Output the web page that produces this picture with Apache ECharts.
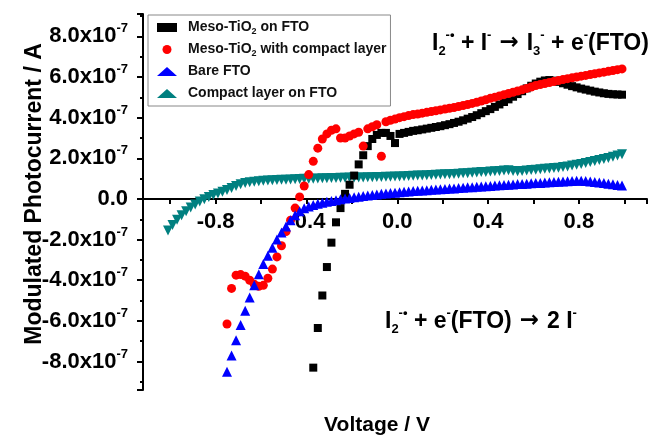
<!DOCTYPE html>
<html>
<head>
<meta charset="utf-8">
<script src="https://cdn.jsdelivr.net/npm/echarts@6/dist/echarts.min.js"></script>
<style>
html, body { margin: 0; padding: 0; background: #fff; }
#chart { width: 665px; height: 440px; }
</style>
</head>
<body>
<div id="chart"></div>
<script>
// photocurrent values are in units of 1e-7 A, voltage in V
const mesoFto = [
  [-0.37,-8.3],[-0.35,-6.35],[-0.33,-4.75],[-0.31,-3.35],[-0.29,-2.15],[-0.27,-1.15],[-0.25,-0.45],[-0.23,0.25],
  [-0.21,0.7],[-0.19,1.15],[-0.17,1.7],[-0.15,2.15],[-0.13,2.6],[-0.11,2.95],[-0.09,3.15],[-0.07,3.25],
  [-0.05,3.25],[-0.03,3.1],[-0.01,2.75],[0.01,3.2],[0.03,3.25],[0.05,3.3],[0.07,3.35],[0.09,3.38],
  [0.11,3.42],[0.13,3.46],[0.15,3.5],[0.17,3.54],[0.19,3.58],[0.21,3.63],[0.23,3.68],[0.25,3.74],
  [0.27,3.8],[0.29,3.87],[0.31,3.95],[0.33,4.03],[0.35,4.12],[0.37,4.22],[0.39,4.32],[0.41,4.42],
  [0.43,4.53],[0.45,4.65],[0.47,4.77],[0.49,4.9],[0.51,5.03],[0.53,5.16],[0.55,5.3],[0.57,5.44],
  [0.59,5.57],[0.61,5.68],[0.63,5.77],[0.65,5.83],[0.67,5.85],[0.69,5.82],[0.71,5.76],[0.73,5.69],
  [0.75,5.62],[0.77,5.55],[0.79,5.49],[0.81,5.43],[0.83,5.38],[0.85,5.33],[0.87,5.28],[0.89,5.24],
  [0.91,5.2],[0.93,5.17],[0.95,5.15],[0.97,5.14],[0.99,5.13]
];
const mesoCompact = [
  [-0.75,-6.15],[-0.73,-4.4],[-0.71,-3.75],[-0.69,-3.72],[-0.67,-3.8],[-0.65,-4.0],[-0.63,-4.2],[-0.61,-4.3],
  [-0.59,-4.25],[-0.57,-3.9],[-0.55,-3.45],[-0.53,-2.85],[-0.51,-2.3],[-0.49,-1.6],[-0.47,-1.05],[-0.45,-0.45],
  [-0.43,0.1],[-0.41,0.64],[-0.39,1.2],[-0.37,1.85],[-0.35,2.5],[-0.33,2.95],[-0.31,3.2],[-0.29,3.38],
  [-0.27,3.45],[-0.25,3.0],[-0.23,3.0],[-0.21,3.1],[-0.19,3.2],[-0.17,3.28],[-0.15,2.6],[-0.13,3.45],
  [-0.11,3.55],[-0.09,3.65],[-0.07,2.1],[-0.05,3.8],[-0.03,3.87],[-0.01,3.93],[0.01,4.0],[0.03,4.05],
  [0.05,4.1],[0.07,4.15],[0.09,4.18],[0.11,4.22],[0.13,4.26],[0.15,4.3],[0.17,4.34],[0.19,4.38],
  [0.21,4.42],[0.23,4.46],[0.25,4.5],[0.27,4.55],[0.29,4.6],[0.31,4.65],[0.33,4.7],[0.35,4.76],
  [0.37,4.82],[0.39,4.88],[0.41,4.95],[0.43,5.01],[0.45,5.07],[0.47,5.13],[0.49,5.19],[0.51,5.25],
  [0.53,5.31],[0.55,5.37],[0.57,5.44],[0.59,5.51],[0.61,5.58],[0.63,5.63],[0.65,5.68],[0.67,5.73],
  [0.69,5.78],[0.71,5.83],[0.73,5.88],[0.75,5.92],[0.77,5.96],[0.79,6.0],[0.81,6.04],[0.83,6.08],
  [0.85,6.12],[0.87,6.16],[0.89,6.2],[0.91,6.24],[0.93,6.28],[0.95,6.32],[0.97,6.36],[0.99,6.4]
];
const bareFto = [
  [-0.75,-8.5],[-0.73,-7.7],[-0.71,-6.95],[-0.69,-6.2],[-0.67,-5.5],[-0.65,-4.85],[-0.63,-4.25],[-0.61,-3.7],
  [-0.59,-3.2],[-0.57,-2.8],[-0.55,-2.4],[-0.53,-2.0],[-0.51,-1.65],[-0.49,-1.35],[-0.47,-1.05],[-0.45,-0.8],
  [-0.43,-0.6],[-0.41,-0.46],[-0.39,-0.37],[-0.37,-0.3],[-0.35,-0.24],[-0.33,-0.19],[-0.31,-0.14],[-0.29,-0.1],
  [-0.27,-0.06],[-0.25,-0.02],[-0.23,0.02],[-0.21,0.05],[-0.19,0.08],[-0.17,0.11],[-0.15,0.14],[-0.13,0.17],
  [-0.11,0.2],[-0.09,0.22],[-0.07,0.25],[-0.05,0.27],[-0.03,0.29],[-0.01,0.31],[0.01,0.33],[0.03,0.35],
  [0.05,0.37],[0.07,0.39],[0.09,0.4],[0.11,0.42],[0.13,0.43],[0.15,0.45],[0.17,0.46],[0.19,0.48],
  [0.21,0.49],[0.23,0.51],[0.25,0.52],[0.27,0.54],[0.29,0.55],[0.31,0.57],[0.33,0.58],[0.35,0.6],
  [0.37,0.61],[0.39,0.63],[0.41,0.64],[0.43,0.66],[0.45,0.67],[0.47,0.69],[0.49,0.7],[0.51,0.71],
  [0.53,0.73],[0.55,0.74],[0.57,0.75],[0.59,0.77],[0.61,0.78],[0.63,0.79],[0.65,0.81],[0.67,0.82],
  [0.69,0.84],[0.71,0.85],[0.73,0.86],[0.75,0.87],[0.77,0.88],[0.79,0.89],[0.81,0.89],[0.83,0.88],
  [0.85,0.86],[0.87,0.84],[0.89,0.81],[0.91,0.78],[0.93,0.75],[0.95,0.72],[0.97,0.69],[0.99,0.66]
];
const compactFto = [
  [-1.01,-1.55],[-0.99,-1.28],[-0.97,-1.02],[-0.95,-0.8],[-0.93,-0.6],[-0.91,-0.42],[-0.89,-0.27],[-0.87,-0.13],
  [-0.85,-0.01],[-0.83,0.1],[-0.81,0.19],[-0.79,0.27],[-0.77,0.35],[-0.75,0.44],[-0.73,0.54],[-0.71,0.64],
  [-0.69,0.72],[-0.67,0.78],[-0.65,0.82],[-0.63,0.85],[-0.61,0.87],[-0.59,0.89],[-0.57,0.91],[-0.55,0.92],
  [-0.53,0.93],[-0.51,0.94],[-0.49,0.95],[-0.47,0.96],[-0.45,0.97],[-0.43,0.98],[-0.41,0.99],[-0.39,1.0],
  [-0.37,1.0],[-0.35,1.01],[-0.33,1.02],[-0.31,1.02],[-0.29,1.03],[-0.27,1.03],[-0.25,1.04],[-0.23,1.04],
  [-0.21,1.05],[-0.19,1.05],[-0.17,1.06],[-0.15,1.06],[-0.13,1.07],[-0.11,1.07],[-0.09,1.08],[-0.07,1.08],
  [-0.05,1.09],[-0.03,1.09],[-0.01,1.1],[0.01,1.11],[0.03,1.12],[0.05,1.13],[0.07,1.14],[0.09,1.15],
  [0.11,1.16],[0.13,1.17],[0.15,1.18],[0.17,1.19],[0.19,1.2],[0.21,1.21],[0.23,1.22],[0.25,1.23],
  [0.27,1.24],[0.29,1.26],[0.31,1.27],[0.33,1.29],[0.35,1.3],[0.37,1.32],[0.39,1.33],[0.41,1.35],
  [0.43,1.36],[0.45,1.38],[0.47,1.4],[0.49,1.41],[0.51,1.38],[0.53,1.36],[0.55,1.38],[0.57,1.4],
  [0.59,1.42],[0.61,1.44],[0.63,1.46],[0.65,1.48],[0.67,1.5],[0.69,1.52],[0.71,1.54],[0.73,1.57],
  [0.75,1.6],[0.77,1.64],[0.79,1.68],[0.81,1.72],[0.83,1.77],[0.85,1.82],[0.87,1.87],[0.89,1.92],
  [0.91,1.97],[0.93,2.02],[0.95,2.08],[0.97,2.14],[0.99,2.2]
];
const seriesNames = ['Meso-TiO2 on FTO', 'Meso-TiO2 with compact layer', 'Bare FTO', 'Compact layer on FTO'];
const xTickLabels = ['-0.8', '-0.4', '0.0', '0.4', '0.8'];
const yTickLabels = [-8, -6, -4, -2, 0, 2, 4, 6, 8];

const chart = echarts.init(document.getElementById('chart'));
const FONT = 'Liberation Sans, Arial, sans-serif';
const GRID_BOTTOM = 50;

function richSet(size, sub) {
  return {
    n: { fontSize: size, fontWeight: 'bold', fontFamily: FONT, color: '#000', lineHeight: size + 6 },
    arr: { fontSize: size, fontWeight: 'bold', fontFamily: 'DejaVu Sans', color: '#000', lineHeight: size + 6 },
    sub: { fontSize: sub, fontWeight: 'bold', fontFamily: FONT, color: '#000', lineHeight: sub + 1, verticalAlign: 'bottom' },
    sup: { fontSize: sub, fontWeight: 'bold', fontFamily: FONT, color: '#000', lineHeight: sub + 1, verticalAlign: 'top' }
  };
}

chart.setOption({
  animation: false,
  backgroundColor: '#fff',
  grid: { left: 143, right: 18, top: 14, bottom: GRID_BOTTOM, outerBoundsMode: 'none' },
  legend: {
    orient: 'vertical',
    left: 148, top: 15,
    data: seriesNames,
    borderColor: '#888', borderWidth: 1,
    padding: [4, 4, 4, 9],
    itemWidth: 20, itemHeight: 9, itemGap: 5,
    formatter: name => name.replace('TiO2', 'TiO{sub|2}'),
    textStyle: {
      fontSize: 14, fontWeight: 'bold', fontFamily: FONT, color: '#111', lineHeight: 17,
      padding: [0, 0, 0, 6],
      rich: { sub: { fontSize: 9, fontWeight: 'bold', fontFamily: FONT, color: '#111', lineHeight: 8, verticalAlign: 'bottom' } }
    }
  },
  xAxis: {
    type: 'value', min: -1.12, max: 1.1, splitNumber: 11,
    position: 'bottom',
    name: 'Voltage / V', nameLocation: 'middle', nameGap: 216, nameMoveOverlap: false,
    nameTextStyle: { fontSize: 21, fontWeight: 'bold', fontFamily: FONT, color: '#000', padding: [0, 36, 0, 0] },
    axisLine: { onZero: false, lineStyle: { color: '#000', width: 2 } },
    axisTick: { length: 5, lineStyle: { color: '#000', width: 2 } },
    splitLine: { show: false },
    axisLabel: {
      margin: 12, fontSize: 22, fontWeight: 'bold', fontFamily: FONT, color: '#000',
      formatter: v => {
        const s = (Math.round(v * 10) / 10).toFixed(1);
        const q = v / 0.4;
        return Math.abs(q - Math.round(q)) < 1e-6 && xTickLabels.includes(s) ? s : '';
      }
    }
  },
  yAxis: {
    type: 'value', min: -9.4, max: 9.1, splitNumber: 9,
    name: 'Modulated Photocurrent / A', nameLocation: 'middle', nameGap: 97, nameMoveOverlap: false,
    nameTextStyle: { fontSize: 23, fontWeight: 'bold', fontFamily: FONT, color: '#000', padding: [0, 0, 0, 16] },
    axisLine: { onZero: false, lineStyle: { color: '#000', width: 2 } },
    axisTick: { length: 6, lineStyle: { color: '#000', width: 2 } },
    minorTick: { show: true, splitNumber: 2, length: 3, lineStyle: { color: '#000', width: 2 } },
    splitLine: { show: false },
    axisLabel: {
      margin: 15,
      rich: richSet(22, 13),
      formatter: v => {
        const r = Math.round(v);
        if (Math.abs(v - r) > 1e-6 || !yTickLabels.includes(r)) return '';
        if (r === 0) return '{n|0.0}';
        return '{n|' + r.toFixed(1) + 'x10}{sup|-7}';
      }
    }
  },
  graphic: [
    {
      type: 'text', left: 432, top: 29,
      style: {
        text: '{n|I}{sub|2}{sup|-•}{n| + I}{sup|-}{arr| → }{n|I}{sub|3}{sup|-}{n| + e}{sup|-}{n|(FTO)}',
        rich: richSet(23, 13)
      }
    },
    {
      type: 'text', left: 385, top: 307,
      style: {
        text: '{n|I}{sub|2}{sup|-•}{n| + e}{sup|-}{n|(FTO)}{arr| → }{n|2 I}{sup|-}',
        rich: richSet(23, 13)
      }
    }
  ],
  series: [
    {
      name: seriesNames[3], type: 'scatter', data: compactFto,
      symbol: 'triangle', symbolRotate: 180, symbolSize: 10,
      itemStyle: { color: '#008080', opacity: 1 }
    },
    {
      name: seriesNames[0], type: 'scatter', data: mesoFto,
      symbol: 'rect', symbolSize: 8,
      itemStyle: { color: '#000', opacity: 1 }
    },
    {
      name: seriesNames[1], type: 'scatter', data: mesoCompact,
      symbol: 'circle', symbolSize: 9,
      itemStyle: { color: '#ff0000', opacity: 1 }
    },
    {
      name: seriesNames[2], type: 'scatter', data: bareFto,
      symbol: 'triangle', symbolSize: 10,
      itemStyle: { color: '#0000ff', opacity: 1 }
    }
  ]
});

// the x axis crosses the y axis at zero current: move it there through the y scale
const zeroY = chart.convertToPixel({ yAxisIndex: 0 }, 0);
const bottomY = chart.getHeight() - GRID_BOTTOM;
chart.setOption({ xAxis: { offset: zeroY - bottomY } });
</script>
</body>
</html>
